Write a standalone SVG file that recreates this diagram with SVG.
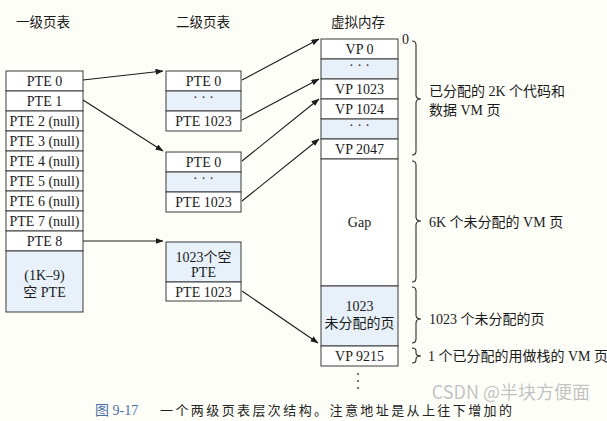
<svg xmlns="http://www.w3.org/2000/svg" width="607" height="421" viewBox="0 0 607 421">
<style>
.bg{fill:#fefef9}
.cell{fill:#ffffff;stroke:#3a3a3a;stroke-width:1}
.sh{fill:#e8f1f9;stroke:#3a3a3a;stroke-width:1}
.t{font-family:"Liberation Serif","Noto Sans CJK SC",serif;font-size:14px;fill:#1a1a1a;text-anchor:middle}
.c{font-family:"Liberation Serif","Noto Sans CJK SC",serif;font-size:14px;fill:#1a1a1a}
.h{font-family:"Noto Sans CJK SC",sans-serif;font-size:13.5px;fill:#1a1a1a}
.dots{font-family:"Liberation Serif",serif;font-size:14px;fill:#333;text-anchor:middle}
.conn{stroke:#1a1a1a;stroke-width:1.1;fill:none;marker-end:url(#ah)}
.br{stroke:#2a2a2a;stroke-width:1.1;fill:none}
</style>
<defs>
<marker id="ah" markerWidth="8" markerHeight="6" refX="7.5" refY="3" orient="auto" markerUnits="userSpaceOnUse">
<path d="M0,0 L8,3 L0,6 Z" fill="#1a1a1a"/>
</marker>
</defs>
<rect class="bg" x="0" y="0" width="607" height="421"/>

<g id="headers">
<text class="h" x="16" y="27">一级页表</text>
<text class="h" x="176" y="27">二级页表</text>
<text class="h" x="331" y="27">虚拟内存</text>
</g>

<g id="l1">
<rect class="cell" x="6" y="71" width="77" height="20"/>
<text class="t" x="44.5" y="86">PTE 0</text>
<rect class="cell" x="6" y="91" width="77" height="20"/>
<text class="t" x="44.5" y="106">PTE 1</text>
<rect class="cell" x="6" y="111" width="77" height="20"/>
<text class="t" x="44.5" y="126">PTE 2 (null)</text>
<rect class="cell" x="6" y="131" width="77" height="20"/>
<text class="t" x="44.5" y="146">PTE 3 (null)</text>
<rect class="cell" x="6" y="151" width="77" height="20"/>
<text class="t" x="44.5" y="166">PTE 4 (null)</text>
<rect class="cell" x="6" y="171" width="77" height="20"/>
<text class="t" x="44.5" y="186">PTE 5 (null)</text>
<rect class="cell" x="6" y="191" width="77" height="20"/>
<text class="t" x="44.5" y="206">PTE 6 (null)</text>
<rect class="cell" x="6" y="211" width="77" height="20"/>
<text class="t" x="44.5" y="226">PTE 7 (null)</text>
<rect class="cell" x="6" y="231" width="77" height="20"/>
<text class="t" x="44.5" y="246">PTE 8</text>
<rect class="sh" x="6" y="251" width="77" height="61"/>
<text class="t" x="44.5" y="280">(1K–9)</text>
<text class="t" x="44.5" y="297">空 PTE</text>
</g>

<g id="l2a">
<rect class="cell" x="166" y="71" width="75" height="20"/>
<text class="t" x="203.5" y="86">PTE 0</text>
<rect class="sh" x="166" y="91" width="75" height="20"/>
<text class="dots" x="203.5" y="102">· · ·</text>
<rect class="cell" x="166" y="111" width="75" height="20"/>
<text class="t" x="203.5" y="126">PTE 1023</text>
</g>

<g id="l2b">
<rect class="cell" x="166" y="152" width="75" height="20"/>
<text class="t" x="203.5" y="167">PTE 0</text>
<rect class="sh" x="166" y="172" width="75" height="20"/>
<text class="dots" x="203.5" y="183">· · ·</text>
<rect class="cell" x="166" y="192" width="75" height="20"/>
<text class="t" x="203.5" y="207">PTE 1023</text>
</g>

<g id="l2c">
<rect class="sh" x="166" y="242" width="75" height="40"/>
<text class="t" x="203.5" y="262">1023个空</text>
<text class="t" x="203.5" y="277">PTE</text>
<rect class="cell" x="166" y="282" width="75" height="19"/>
<text class="t" x="203.5" y="297">PTE 1023</text>
</g>

<g id="vm">
<rect class="cell" x="321" y="39" width="77" height="20"/>
<text class="t" x="359.5" y="54">VP 0</text>
<rect class="sh" x="321" y="59" width="77" height="20"/>
<text class="dots" x="359.5" y="70">· · ·</text>
<rect class="cell" x="321" y="79" width="77" height="20"/>
<text class="t" x="359.5" y="94">VP 1023</text>
<rect class="cell" x="321" y="99" width="77" height="20"/>
<text class="t" x="359.5" y="114">VP 1024</text>
<rect class="sh" x="321" y="119" width="77" height="20"/>
<text class="dots" x="359.5" y="130">· · ·</text>
<rect class="cell" x="321" y="139" width="77" height="20"/>
<text class="t" x="359.5" y="154">VP 2047</text>
<rect class="cell" x="321" y="159" width="77" height="127"/>
<text class="t" x="359.5" y="227">Gap</text>
<rect class="sh" x="321" y="286" width="77" height="60"/>
<text class="t" x="359.5" y="311">1023</text>
<text class="t" x="359.5" y="328">未分配的页</text>
<rect class="cell" x="321" y="346" width="77" height="20"/>
<text class="t" x="359.5" y="361">VP 9215</text>
<circle cx="358" cy="374" r="0.9" fill="#333"/>
<circle cx="358" cy="381" r="0.9" fill="#333"/>
<circle cx="358" cy="388" r="0.9" fill="#333"/>
<text class="c" x="402" y="44">0</text>
</g>

<g id="connectors">
<line class="conn" x1="83" y1="80" x2="163" y2="71"/>
<line class="conn" x1="83" y1="100" x2="163" y2="151"/>
<line class="conn" x1="83" y1="241" x2="163" y2="241"/>
<line class="conn" x1="242" y1="80" x2="319" y2="39"/>
<line class="conn" x1="242" y1="120" x2="319" y2="79"/>
<line class="conn" x1="242" y1="161" x2="319" y2="99"/>
<line class="conn" x1="242" y1="201" x2="319" y2="139"/>
<line class="conn" x1="242" y1="291" x2="318" y2="343"/>
</g>

<g id="braces">
<path class="br" d="M412,41 Q416,41 416,45 L416,95 Q416,99 421,99 Q416,99 416,103 L416,151 Q416,155 412,155"/>
<path class="br" d="M412,161 Q416,161 416,165 L416,217 Q416,221 421,221 Q416,221 416,225 L416,278 Q416,282 412,282"/>
<path class="br" d="M412,287 Q416,287 416,291 L416,315 Q416,319 421,319 Q416,319 416,323 L416,339 Q416,343 412,343"/>
<path class="br" d="M412,348 Q416,348 416,351 L416,353 Q416,356 421,356 Q416,356 416,359 L416,360 Q416,363 412,363"/>
</g>

<g id="labels">
<text class="c" x="429" y="96">已分配的 2K 个代码和</text>
<text class="c" x="429" y="115">数据 VM 页</text>
<text class="c" x="429" y="227">6K 个未分配的 VM 页</text>
<text class="c" x="429" y="324">1023 个未分配的页</text>
<text class="c" x="428" y="361" font-size="12.5">1 个已分配的用做栈的 VM 页</text>
</g>

<g id="caption">
<text x="95" y="415" font-family="Liberation Serif,Noto Sans CJK SC,serif" font-size="14" fill="#4a6fa8">图 9-17</text>
<text x="160" y="415" font-family="Noto Sans CJK SC,sans-serif" font-size="13" fill="#222" textLength="352" lengthAdjust="spacing">一个两级页表层次结构。注意地址是从上往下增加的</text>
<text x="590" y="399" font-family="Noto Sans CJK SC,sans-serif" font-size="18" fill="#b8b8b8" fill-opacity="0.85" text-anchor="end">CSDN @半块方便面</text>
</g>
</svg>
